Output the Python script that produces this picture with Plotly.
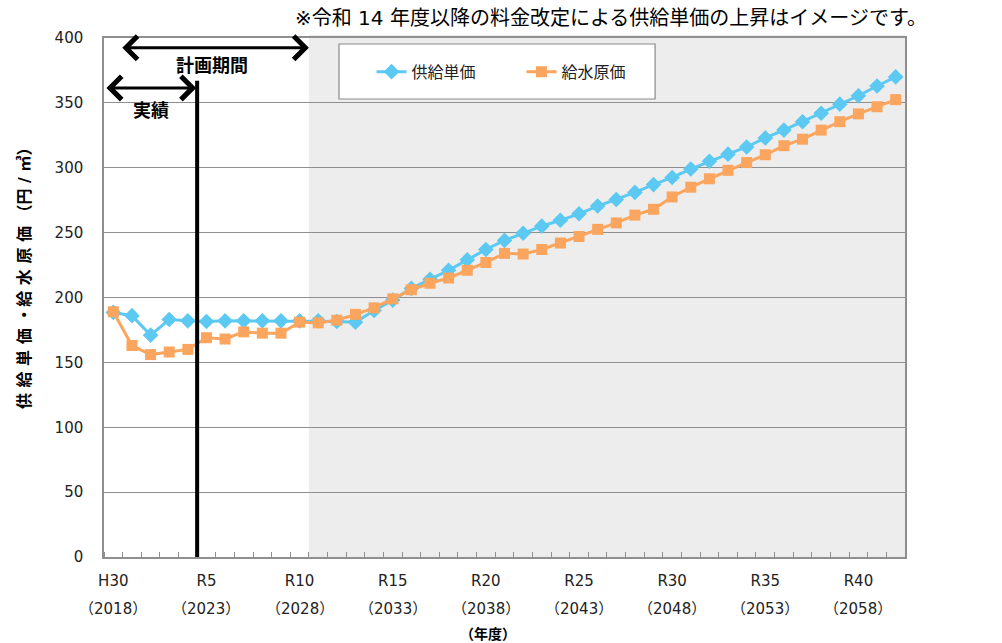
import plotly.graph_objects as go

# ---- data ----
years = list(range(2018, 2061))
label_years = [2018, 2023, 2028, 2033, 2038, 2043, 2048, 2053, 2058]
era_labels = ["H30", "R5", "R10", "R15", "R20", "R25", "R30", "R35", "R40"]
year_labels = ["（2018）", "（2023）", "（2028）", "（2033）", "（2038）",
               "（2043）", "（2048）", "（2053）", "（2058）"]

supply_price = [188.5, 186, 171, 183, 182, 181.5, 182, 182, 182, 182,
                182, 182, 181.5, 181, 190, 198, 207, 214, 221, 229,
                237, 244, 249.5, 255, 259.5, 264.5, 270.5, 275.5, 281, 287,
                292.5, 299, 305, 310.5, 316, 323, 329, 335.5, 342, 349,
                355.5, 363, 370]
water_cost = [189, 163, 156, 158, 160, 169, 168, 173.5, 172.5, 172.5,
              181, 180.5, 182.5, 187, 192, 199, 206, 211, 215, 221,
              227, 234, 233.5, 237, 242, 247, 252.5, 257.5, 263.5, 268,
              277.5, 285, 291.5, 298, 304, 310, 317, 322, 329, 335.5,
              341.5, 347, 352.5]

actual_last_year = 2022      # 実績
plan_last_year = 2028        # 計画期間

FONT = "DejaVu Sans, Noto Sans CJK JP"
BLUE = "#5BC9F1"
ORANGE = "#FBA55E"
GRID = "#8F8F8F"

fig = go.Figure()
fig.add_trace(go.Scatter(
    x=years, y=supply_price, name="供給単価", mode="lines+markers",
    line=dict(color=BLUE, width=3),
    marker=dict(symbol="diamond", size=12, color=BLUE)))
fig.add_trace(go.Scatter(
    x=years, y=water_cost, name="給水原価", mode="lines+markers",
    line=dict(color=ORANGE, width=3),
    marker=dict(symbol="square", size=11, color=ORANGE)))

x0 = years[0] - 0.5
x1 = years[-1] + 0.5

shapes = [
    dict(type="rect", xref="x", yref="paper", x0=plan_last_year + 0.5, x1=x1,
         y0=0, y1=1.006, fillcolor="#EDEDED", line=dict(width=0), layer="below"),
    dict(type="line", xref="x", yref="y", x0=actual_last_year + 0.5,
         x1=actual_last_year + 0.5, y0=0, y1=367,
         line=dict(color="black", width=4)),
    dict(type="rect", xref="paper", yref="paper", x0=0.2934, x1=0.688,
         y0=0.8825, y1=0.9884, fillcolor="white",
         line=dict(color="#8A8A8A", width=1.2), layer="above"),
]

annotations = [
    dict(x=plan_last_year + 0.5, y=392.5, ax=2018.4, ay=392.5, xref="x", yref="y",
         axref="x", ayref="y", text="", showarrow=True, arrowhead=4,
         arrowside="end+start", arrowwidth=3, arrowsize=1.5, arrowcolor="black"),
    dict(x=actual_last_year + 0.45, y=361.5, ax=x0 + 0.05, ay=361.5, xref="x",
         yref="y", axref="x", ayref="y", text="", showarrow=True, arrowhead=4,
         arrowside="end+start", arrowwidth=3, arrowsize=1.5, arrowcolor="black"),
    dict(x=2023.3, y=378.5, xref="x", yref="y", text="<b>計画期間</b>",
         showarrow=False, font=dict(size=18, family=FONT, color="black")),
    dict(x=2020.0, y=344, xref="x", yref="y", text="<b>実績</b>",
         showarrow=False, font=dict(size=18, family=FONT, color="black")),
    dict(x=1.03, y=1.0, xref="paper", yref="paper", xanchor="right",
         yanchor="bottom", yshift=6,
         text="※令和 14 年度以降の料金改定による供給単価の上昇はイメージです。",
         showarrow=False, font=dict(size=20, family=FONT, color="black")),
    dict(x=-0.1, y=0.545, xref="paper", yref="paper", textangle=-90,
         xanchor="center", yanchor="middle",
         text="<b>供 給 単 価 ・給 水 原 価 （円 / ㎥）</b>",
         showarrow=False, font=dict(size=16, family=FONT, color="black")),
    dict(x=0.48, y=-0.148, xref="paper", yref="paper", text="<b>（年度）</b>",
         yanchor="middle",
         showarrow=False, font=dict(size=14, family=FONT, color="black")),
]
for yr, lab in zip(label_years, year_labels):
    annotations.append(dict(x=yr, y=-0.1, xref="x", yref="paper", text=lab,
                            yanchor="middle", showarrow=False,
                            font=dict(size=15, family=FONT, color="#222")))

fig.update_layout(
    width=1002, height=643,
    margin=dict(l=104, r=97, t=38, b=86),
    paper_bgcolor="white", plot_bgcolor="white",
    font=dict(family=FONT, size=15, color="#222"),
    showlegend=True,
    legend=dict(orientation="h", x=0.334, y=0.935, xanchor="left",
                yanchor="middle", bgcolor="rgba(0,0,0,0)",
                font=dict(size=16, family=FONT, color="#222"),
                entrywidth=105, entrywidthmode="pixels"),
    shapes=shapes, annotations=annotations,
    xaxis=dict(range=[x0, x1], tickmode="array", tickvals=label_years,
               ticktext=era_labels, ticks="", showgrid=False, zeroline=False,
               showline=True, linecolor=GRID, linewidth=1.5, mirror=True,
               ticklabelstandoff=9,
               minor=dict(tickmode="array",
                          tickvals=[y - 0.5 for y in years] + [x1],
                          ticks="inside", ticklen=5, tickcolor=GRID,
                          showgrid=False)),
    yaxis=dict(range=[0, 400], tickmode="linear", tick0=0, dtick=50,
               showgrid=True, gridcolor=GRID, gridwidth=1.2, zeroline=False,
               showline=True, linecolor=GRID, linewidth=1.5, mirror=True,
               ticks="", ticklabelstandoff=16),
)

fig.write_html("out.html")
